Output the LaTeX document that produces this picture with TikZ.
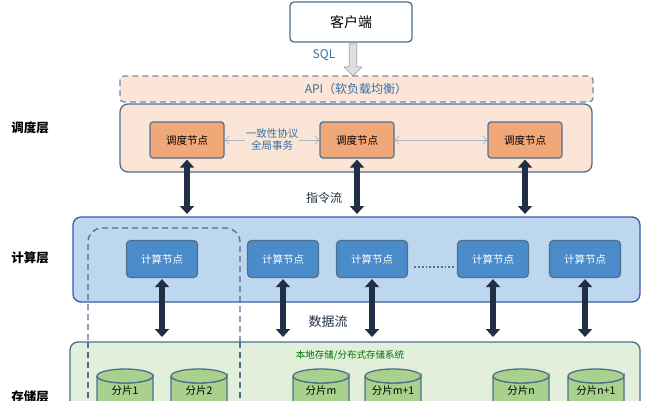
\documentclass[tikz,border=0pt]{standalone}
\usepackage{fontspec}
\setmainfont{Noto Sans CJK SC}
\usetikzlibrary{arrows.meta,shapes.arrows,calc}
\definecolor{bord}{HTML}{4F6F8F}
\definecolor{peach}{HTML}{FBE5D6}
\definecolor{orng}{HTML}{F0A878}
\definecolor{lblue}{HTML}{BDD7EE}
\definecolor{mblue}{HTML}{4A8BC9}
\definecolor{lgreen}{HTML}{E2EFDA}
\definecolor{cgreen}{HTML}{A9D18E}
\definecolor{navy}{HTML}{1F2F45}
\definecolor{tblue}{HTML}{3A6EA5}
\tikzset{x=1pt,y=-1pt,
 layer/.style={draw=bord,line width=1.3pt,rounded corners=8pt},
 dnode/.style={draw=bord,line width=1.2pt,fill=orng,rounded corners=3pt,minimum width=74pt,minimum height=36pt,font=\fontsize{10.5}{11}\selectfont},
 cnode/.style={draw=bord,line width=1.2pt,fill=mblue,rounded corners=4pt,minimum width=71pt,minimum height=37pt,text=white,font=\fontsize{10.5}{11}\selectfont},
 thick arrow/.style={draw=navy,line width=6pt,{Triangle[width=14pt,length=8pt]}-{Triangle[width=14pt,length=8pt]},shorten <=1pt,shorten >=1pt},
 side/.style={font=\bfseries\fontsize{12.5}{13}\selectfont},
 cyl/.style={draw=bord,line width=1.3pt,fill=cgreen}}
\begin{document}
\begin{tikzpicture}
\useasboundingbox (0,0) rectangle (653,400);
\clip (0,0) rectangle (653,400);
\fill[white] (0,0) rectangle (653,400);
% client
\node[draw=bord,line width=1.3pt,rounded corners=4pt,minimum width=122pt,minimum height=40pt,font=\fontsize{14}{15}\selectfont] (client) at (351,22) {客户端};
\node[single arrow,draw=gray,fill=gray!25,minimum height=32pt,minimum width=18pt,single arrow head extend=3pt,shape border rotate=270,inner sep=2pt] (sql) at (353,58) {};
\node[text=tblue,font=\fontsize{12}{13}\selectfont] (sqlt) at (324,55) {SQL};
% API
\draw[dashed,line width=1.3pt,draw=bord!80,fill=peach,rounded corners=4pt,dash pattern=on 6pt off 4pt] (120,76) rectangle (593,102);
\node[text=tblue,font=\fontsize{12}{13}\selectfont] (api) at (356,89) {API（软负载均衡）};
% scheduling layer
\draw[layer,fill=peach] (120,104) rectangle (592,172);
\node[dnode] (d1) at (187,140) {调度节点};
\node[dnode] (d2) at (357,140) {调度节点};
\node[dnode] (d3) at (525,140) {调度节点};
\draw[{Straight Barb[length=4pt]}-{Straight Barb[length=4pt]},draw=bord!50,line width=0.8pt] (d1) -- (d2);
\draw[{Straight Barb[length=4pt]}-{Straight Barb[length=4pt]},draw=bord!50,line width=0.8pt] (d2) -- (d3);
\node[fill=peach,inner sep=1pt,text=tblue,font=\fontsize{10.5}{11}\selectfont,align=center] (proto) at (272,140) {一致性协议\\[1pt]全局事务};
\node[side] (l1) at (30,128) {调度层};
% compute layer
\draw[layer,fill=lblue,draw=bord!80!blue] (73,217) rectangle (640,302);
\draw[dashed,line width=1.3pt,draw=bord,rounded corners=14pt,dash pattern=on 6pt off 4pt] (88,420) -- (88,228) -- (240,228) -- (240,420);
\node[cnode] (c1) at (162,259) {计算节点};
\node[cnode] (c2) at (283,259) {计算节点};
\node[cnode] (c3) at (372,259) {计算节点};
\node[cnode] (c4) at (493,259) {计算节点};
\node[cnode] (c5) at (585,259) {计算节点};
\draw[dotted,line width=1.8pt,draw=bord] ($(c3.east)+(6,8)$) -- ($(c4.west)+(-3,8)$);
\node[side] (l2) at (30,258) {计算层};
% arrows cmd
\coordinate (a1) at (187,215);
\coordinate (a2) at (357,215);
\coordinate (a3) at (525,215);
\draw[thick arrow] (d1.south) -- (a1);
\draw[thick arrow] (d2.south) -- (a2);
\draw[thick arrow] (d3.south) -- (a3);
\node[text=navy,font=\fontsize{12}{13}\selectfont,fill=white,inner sep=1pt] (cmd) at (324,198) {指令流};
% storage
\draw[layer,fill=lgreen] (70,342) rectangle (640,430);
\draw[dashed,line width=1.3pt,draw=bord,dash pattern=on 6pt off 4pt] (88,342) -- (88,400) (240,342) -- (240,400);
\node[text=green!45!black,font=\fontsize{9.5}{10}\selectfont] (st) at (350,355) {本地存储/分布式存储系统};
\foreach \x/\t/\n in {125/分片1/s1,199/分片2/s2,321/分片m/s3,393/分片m+1/s4,521/分片n/s5,596/分片n+1/s6}{
 \draw[cyl] (\x-28,376) -- (\x-28,410) -- (\x+28,410) -- (\x+28,376) arc (0:180:28 and 7);
 \draw[cyl] (\x,376) ellipse (28 and 7);
 \node[font=\fontsize{10.5}{11}\selectfont] (\n) at (\x,391) {\t};
}
\coordinate (b1) at (162,338);
\coordinate (b2) at (283,338);
\coordinate (b3) at (372,338);
\coordinate (b4) at (493,338);
\coordinate (b5) at (585,338);
\foreach \i in {1,...,5}{\draw[thick arrow] (c\i.south) -- (b\i);}
\node[text=navy,font=\fontsize{13}{14}\selectfont] (data) at (328,322) {数据流};
\node[side] (l3) at (30,397) {存储层};
\end{tikzpicture}
\end{document}
